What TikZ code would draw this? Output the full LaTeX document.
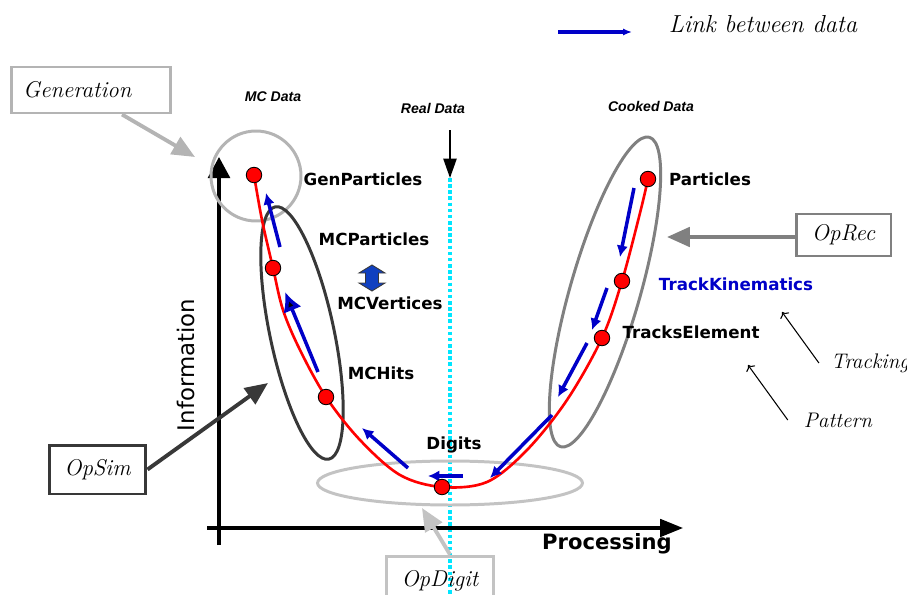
\documentclass[tikz,border=0pt]{standalone}
\usepackage{fontspec}
\usetikzlibrary{calc,shapes,arrows,arrows.meta}
\newfontfamily\dvsans{DejaVu Sans}
\newfontfamily\libsans{Liberation Sans}
\definecolor{linkblue}{RGB}{0,0,200}
\definecolor{gengray}{RGB}{180,180,180}
\definecolor{recgray}{RGB}{128,128,128}
\definecolor{simgray}{RGB}{56,56,56}
\definecolor{diggray}{RGB}{195,195,195}
\definecolor{realcyan}{RGB}{0,230,255}
\definecolor{vtxblue}{RGB}{16,64,192}

\begin{document}
\begin{tikzpicture}[x=0.02cm,y=-0.02cm,
    data/.style={font=\dvsans\bfseries\fontsize{9.5}{11}\selectfont, inner sep=1pt},
    kind/.style={font=\libsans\bfseries\itshape\fontsize{8}{10}\selectfont},
    opbox/.style={draw, line width=1.7pt, font=\itshape\fontsize{13}{15}\selectfont},
    dot/.style={circle, draw=black, fill=red, line width=0.5pt, minimum size=0.31cm, inner sep=0pt},
    link/.style={linkblue, line width=2pt, -{Latex[length=6.5pt,width=6.5pt]}},
    callout/.style={line width=2.2pt, -{Triangle[length=13pt,width=11pt]}},
    note/.style={font=\itshape\fontsize{12}{14}\selectfont}]
\useasboundingbox (0,0) rectangle (907,595);

% legend
\coordinate (legtail) at (558,32);
\coordinate (leghead) at (632,32);
\draw[linkblue, line width=1.8pt, -{Latex[length=5pt,width=4pt]}] (legtail) -- (leghead);
\node[note, font=\itshape\fontsize{14}{16}\selectfont] (legend) at (763,24) {Link between data};

% kinds of data
\node[kind] (mcdata) at (273,97) {MC Data};
\node[kind] (real) at (433,108) {Real Data};
\node[kind] (cooked) at (651,106) {Cooked Data};

% real data line
\coordinate (realtop) at (450,130);
\coordinate (realbot) at (450,178);
\coordinate (realend) at (450,600);
\draw[line width=1pt, -{Triangle[length=11pt,width=7.5pt]}] (realtop) -- (realbot);
\draw[realcyan, line width=1.8pt, dash pattern=on 2pt off 1.5pt] (realbot) -- (realend);

% axes
\draw[line width=1.8pt, -{Triangle[length=12pt,width=12.5pt]}] (219,545) -- (219,157);
\draw[line width=1.8pt, -{Triangle[length=13pt,width=10pt]}] (207,528) -- (683,528);
\node[font=\dvsans\fontsize{13}{15}\selectfont, rotate=90] (info) at (186,365) {Information};
\node[font=\dvsans\bfseries\fontsize{12}{14}\selectfont] (proc) at (607,544) {Processing};

% groups
\node[circle, draw=gengray, line width=1.7pt, minimum size=1.8cm] (gencirc) at (256,176) {};
\node[ellipse, draw=simgray, line width=1.7pt, minimum width=1.28cm, minimum height=5.16cm, rotate=12] (simell) at (302,333) {};
\node[ellipse, draw=recgray, line width=1.7pt, minimum width=1.4cm, minimum height=6.44cm, rotate=-16] (recell) at (605,292) {};
\node[ellipse, draw=diggray, line width=1.7pt, minimum width=5.3cm, minimum height=0.88cm] (digell) at (450,483) {};

% the chain
\draw[red, line width=1.5pt] plot[smooth, tension=0.55] coordinates {(254,175) (262,220) (273,268) (283,310) (300,350) (326,397) (360,440) (400,475) (442,487) (487,482) (527,450) (567,400) (602,338) (622,281) (640,213) (648,179)};

% links
\foreach \xa/\ya/\xb/\yb in {280/247/266/193, 408/468/362/428, 463/476/428/476, 552/415/490/478, 587/343/558/397, 607/288/592/330, 634/188/620/257}
  \draw[link] (\xa,\ya) -- (\xb,\yb);
\draw[linkblue, line width=2pt, -{Latex[length=11pt,width=11pt,fill=black]}] (318,372) -- (285,292);
\filldraw[fill=vtxblue, draw=simgray, line width=0.5pt] (372,265) -- (385,273) -- (378.5,273) -- (378.5,283) -- (385,283) -- (372,291) -- (359,283) -- (365.5,283) -- (365.5,273) -- (359,273) -- cycle;

% data
\node[dot] (genp) at (254,175) {};
\node[dot] (mcp) at (273,268) {};
\node[dot] (mch) at (326,397) {};
\node[dot] (dig) at (442,487) {};
\node[dot] (tre) at (602,338) {};
\node[dot] (trk) at (622,281) {};
\node[dot] (part) at (648,179) {};
\node[data] (lgenp) at (363,179) {GenParticles};
\node[data] (lmcp) at (374,239) {MCParticles};
\node[data] (lmcv) at (390,303) {MCVertices};
\node[data] (lmch) at (381,373) {MCHits};
\node[data] (ldig) at (454,445) {Digits};
\node[data] (lpart) at (710,179) {Particles};
\node[data, text=linkblue] (ltrk) at (736,284) {TrackKinematics};
\node[data] (ltre) at (691,332) {TracksElement};

% operators
\node[opbox, draw=gengray, minimum width=3.2cm, minimum height=0.92cm, text width=2.72cm, inner xsep=0.24cm, align=left] (generation) at (91,90) {Generation};
\coordinate (gentip) at (195,157);
\draw[callout, gengray] ([xshift=0.62cm]generation.south) -- (gentip);
\node[opbox, draw=simgray, minimum width=1.94cm, minimum height=0.98cm] (opsim) at (97.5,469.5) {OpSim};
\coordinate (simtip) at (268,383);
\draw[callout, simgray] (opsim.east) -- (simtip);
\node[opbox, draw=recgray, minimum width=1.9cm, minimum height=0.84cm] (oprec) at (843.5,235) {OpRec};
\coordinate (rectip) at (667,237);
\draw[callout, recgray] (oprec.west |- rectip) -- (rectip);
\node[opbox, draw=diggray, minimum width=2.16cm, minimum height=1cm] (opdigit) at (440,581) {OpDigit};
\coordinate (digtip) at (422,508);
\draw[callout, diggray] ([xshift=0.2cm]opdigit.north) -- (digtip);

% tracking
\node[note] (tracking) at (870,363) {Tracking};
\node[note] (pattern) at (838,420) {Pattern};
\coordinate (tracktip) at (782,312);
\coordinate (pattip) at (748,365);
\draw[line width=0.6pt, ->] ([xshift=-0.12cm]tracking.west) -- (tracktip);
\draw[line width=0.6pt, ->] ([xshift=-0.2cm]pattern.west) -- (pattip);
\end{tikzpicture}
\end{document}
